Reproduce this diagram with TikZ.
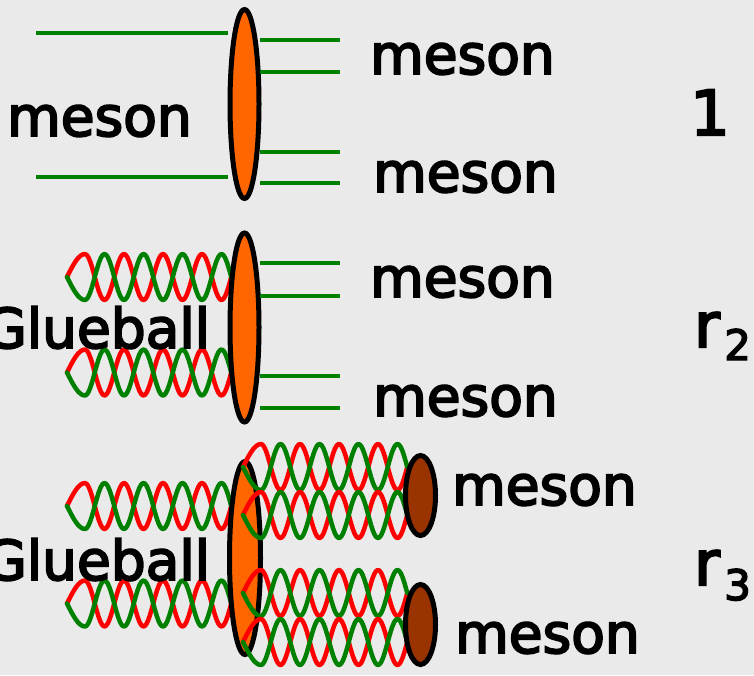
\documentclass[tikz,border=0pt]{standalone}
\usepackage{fontspec}
\setmainfont[RawFeature={embolden=3.5}]{DejaVu Sans}
\usetikzlibrary{shapes.geometric}

\definecolor{bgcol}{RGB}{234,234,234}
\definecolor{quark}{RGB}{0,128,0}
\definecolor{gred}{RGB}{255,0,0}
\definecolor{vertex}{RGB}{255,102,0}
\definecolor{hadron}{RGB}{153,51,0}

\tikzset{
  quarkline/.style={quark,line width=4.5pt},
  strand/.style={line width=4.5pt,line cap=round,line join=round},
  vertexblob/.style={ellipse,draw=black,line width=5pt,fill=vertex,inner sep=0pt,
                     minimum width=29pt,minimum height=189pt},
  mesonblob/.style={ellipse,draw=black,line width=5pt,fill=hadron,inner sep=0pt,
                    minimum width=30pt,minimum height=80pt},
  word/.style={inner sep=0pt,anchor=base west,font=\fontsize{55}{60}\selectfont},
  weightmain/.style={inner sep=0pt,anchor=base west,font=\fontsize{62}{70}\selectfont},
  weightsub/.style={inner sep=0pt,anchor=base west,font=\fontsize{42}{46}\selectfont},
}

% gluon flux tube: two sine strands of opposite phase
\def\glamp{23}
\def\glper{39}
% #1 colour, #2 start x, #3 centre y, #4 +1 (first lobe up) or -1, #5 end x
\newcommand{\gluonstrand}[5]{%
  \draw[strand,#1] (#2,#3) sin ({#2+18},{#3-(#4)*\glamp})
    -- plot[domain=#2+18:#5,samples=90,variable=\t]
       ({\t},{#3-(#4)*\glamp*cos((\t-#2-18)/\glper*360)});
}
\newcommand{\gluontube}[3]{%
  \gluonstrand{gred}{#1}{#2}{1}{#3}%
  \gluonstrand{quark}{#1}{#2}{-1}{#3}%
}

\begin{document}
\begin{tikzpicture}[x=1pt,y=-1pt]
  \useasboundingbox (0,0) rectangle (754,675);
  \fill[bgcol] (0,0) rectangle (754,675);

  % meson -> meson meson
  \draw[quarkline] (36,33) -- (228,33);
  \draw[quarkline] (36,177) -- (228,177);
  \node[vertexblob] (v1) at (244.5,104) {};
  \draw[quarkline] (260,40) -- (340,40);
  \draw[quarkline] (260,72) -- (340,72);
  \draw[quarkline] (260,152) -- (340,152);
  \draw[quarkline] (260,183) -- (340,183);

  % glueball -> meson meson
  \gluontube{67}{277}{241}
  \gluontube{67}{372.5}{241}
  \node[vertexblob] (v2) at (244.5,327.5) {};
  \draw[quarkline] (260,263) -- (340,263);
  \draw[quarkline] (260,296) -- (340,296);
  \draw[quarkline] (260,376) -- (340,376);
  \draw[quarkline] (260,408) -- (340,408);

  % glueball -> glueball-like mesons
  \gluontube{67}{506}{241}
  \gluontube{67}{603.5}{241}
  \node[vertexblob,minimum width=31pt,minimum height=193pt] (v3) at (245,558) {};
  \gluontube{243}{467}{407.25}
  \gluontube{243}{515}{407.25}
  \gluontube{243}{593}{407.25}
  \gluontube{243}{642}{407.25}
  \node[mesonblob] (h1) at (420.5,495.5) {};
  \node[mesonblob] (h2) at (420.5,624.5) {};

  % labels
  \node[word] (in1) at (7,136) {meson};
  \node[word] (out1a) at (370,74) {meson};
  \node[word] (out1b) at (373,192) {meson};
  \node[word] (in2) at (-16,348) {Glueball};
  \node[word] (out2a) at (370,297) {meson};
  \node[word] (out2b) at (373,416) {meson};
  \node[word] (in3) at (-16,580) {Glueball};
  \node[word] (out3a) at (452,505) {meson};
  \node[word] (out3b) at (455,653) {meson};

  % relative weights
  \node[weightmain] (w1) at (690,135) {1};
  \node[weightmain] (w2) at (694,347) {r};
  \node[weightsub] (w2s) at (724,360) {2};
  \node[weightmain] (w3) at (694,585) {r};
  \node[weightsub] (w3s) at (724,600) {3};
\end{tikzpicture}
\end{document}
